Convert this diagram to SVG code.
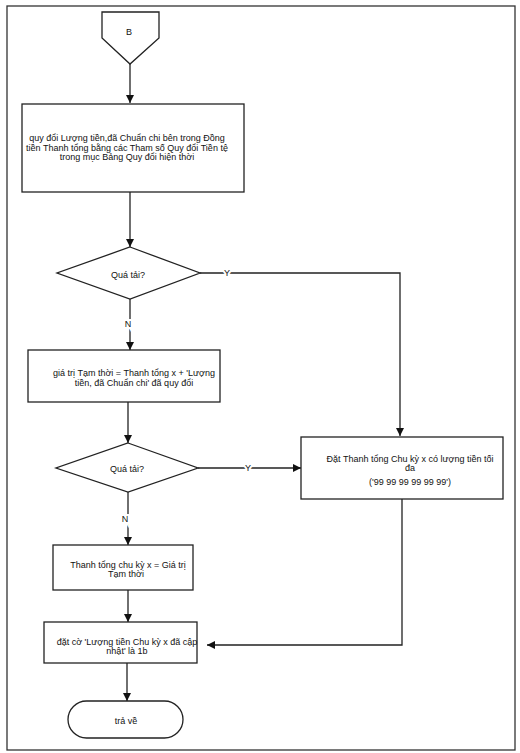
<svg xmlns="http://www.w3.org/2000/svg" width="520" height="753" viewBox="0 0 520 753">
<defs>
<marker id="ah" markerWidth="8" markerHeight="8" refX="8" refY="4" orient="auto" markerUnits="userSpaceOnUse">
<path d="M0,0 L8,4 L0,8 Z" fill="#111"/>
</marker>
</defs>
<style>
.s{fill:#fff;stroke:#222;stroke-width:1.3}
.c{fill:none;stroke:#222;stroke-width:1.3}
.t{font-family:"Liberation Sans",Arial,sans-serif;font-size:9px;fill:#111;text-anchor:middle}
.l{stroke:#fff;stroke-width:4px;paint-order:stroke}
</style>
<rect x="7" y="6" width="508" height="744" fill="#fff" stroke="#333" stroke-width="1.3"/>
<g id="connectors">
<line class="c" x1="130" y1="64" x2="130" y2="103" marker-end="url(#ah)"/>
<line class="c" x1="130" y1="192" x2="130" y2="247" marker-end="url(#ah)"/>
<polyline class="c" points="200,273 400,273 400,436" marker-end="url(#ah)"/>
<text class="t l" x="227" y="276">Y</text>
<line class="c" x1="130" y1="299" x2="130" y2="350" marker-end="url(#ah)"/>
<text class="t l" x="128" y="327">N</text>
<line class="c" x1="128" y1="402" x2="128" y2="443" marker-end="url(#ah)"/>
<line class="c" x1="198" y1="468" x2="301" y2="468" marker-end="url(#ah)"/>
<text class="t l" x="248" y="471">Y</text>
<line class="c" x1="128" y1="492" x2="128" y2="545" marker-end="url(#ah)"/>
<text class="t l" x="125" y="522">N</text>
<line class="c" x1="128" y1="590" x2="128" y2="622" marker-end="url(#ah)"/>
<polyline class="c" points="402,499 402,645 207,645" marker-end="url(#ah)"/>
<line class="c" x1="127" y1="663" x2="127" y2="701" marker-end="url(#ah)"/>
</g>
<g id="nodeB">
<path class="s" d="M102,12 L159,12 L159,38 L130,64 L102,38 Z"/>
<text class="t" x="129" y="35">B</text>
</g>
<g id="node1">
<rect class="s" x="22" y="104" width="222" height="88"/>
<text class="t" x="127" y="141">quy đổi Lượng tiền,đã Chuẩn chi bên trong Đồng</text>
<text class="t" x="127" y="151">tiền Thanh tổng bằng các Tham số Quy đổi Tiền tệ</text>
<text class="t" x="127" y="160">trong mục Bảng Quy đổi hiện thời</text>
</g>
<g id="dec1">
<path class="s" d="M130,247 L200,273 L130,299 L57,273 Z"/>
<text class="t" x="128" y="278">Quá tải?</text>
</g>
<g id="node2">
<rect class="s" x="28" y="350" width="192" height="52"/>
<text class="t" x="134" y="376">giá trị Tạm thời = Thanh tổng x + 'Lượng</text>
<text class="t" x="134" y="386">tiền, đã Chuẩn chi' đã quy đổi</text>
</g>
<g id="dec2">
<path class="s" d="M128,443 L198,468 L128,492 L56,468 Z"/>
<text class="t" x="127" y="472">Quá tải?</text>
</g>
<g id="node3">
<rect class="s" x="301" y="437" width="202" height="62"/>
<text class="t" x="410" y="462">Đặt Thanh tổng Chu kỳ x có lượng tiền tối</text>
<text class="t" x="410" y="471">đa</text>
<text class="t" x="410" y="485">('99 99 99 99 99 99')</text>
</g>
<g id="node4">
<rect class="s" x="53" y="545" width="140" height="45"/>
<text class="t" x="128" y="568">Thanh tổng chu kỳ x = Giá trị</text>
<text class="t" x="126" y="577">Tạm thời</text>
</g>
<g id="node5">
<rect class="s" x="44" y="622" width="153" height="41"/>
<text class="t" x="127" y="645">đặt cờ 'Lượng tiền Chu kỳ x đã cập</text>
<text class="t" x="127" y="654">nhật' là 1b</text>
</g>
<g id="end">
<rect class="s" x="68" y="701" width="115" height="37" rx="18.5" ry="18.5"/>
<text class="t" x="126" y="724">trả về</text>
</g>
</svg>
